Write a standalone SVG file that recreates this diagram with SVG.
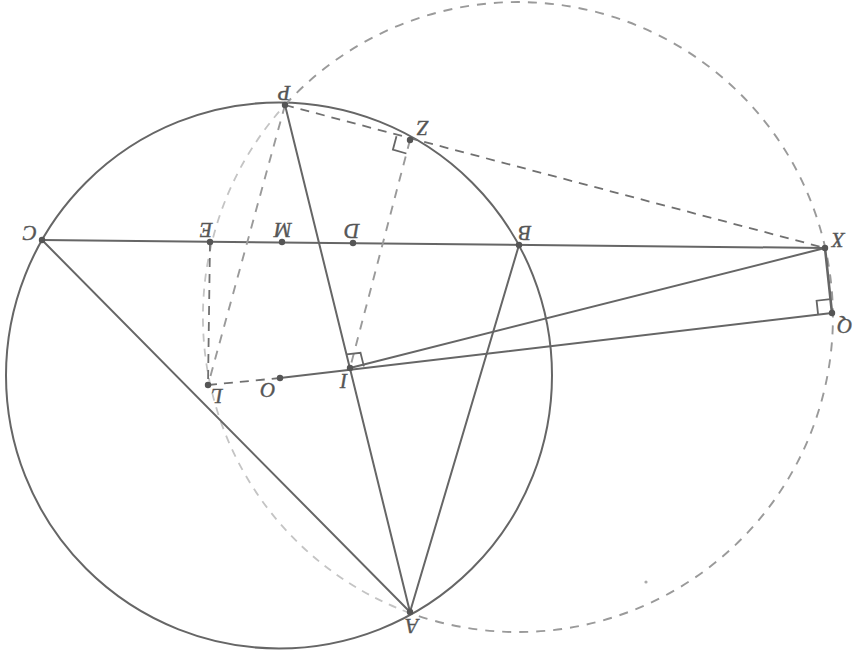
<svg xmlns="http://www.w3.org/2000/svg" width="855" height="652" viewBox="0 0 855 652">
<style>
.solid{fill:none;stroke:#666;stroke-width:2;stroke-linecap:round}
.dd{fill:none;stroke:#707070;stroke-width:1.8;stroke-dasharray:9 7}
.dm{fill:none;stroke:#9a9a9a;stroke-width:1.9;stroke-dasharray:9 8}
.dl{fill:none;stroke:#c4c4c4;stroke-width:1.8;stroke-dasharray:8 7}
.ra{fill:none;stroke:#666;stroke-width:1.8}
.pt{fill:#555}
.lb{font-family:"Liberation Serif","DejaVu Serif",serif;font-style:italic;font-size:21px;fill:#555;stroke:#555;stroke-width:0.4;text-anchor:middle;dominant-baseline:central}
</style>
<rect width="855" height="652" fill="#fff"/>
<g id="connectors">
<circle class="solid" cx="279" cy="375.5" r="273"/>
<path class="dm" d="M285 105 A315 315 0 1 1 410 613"/>
<path class="dl" d="M410 613 A315 315 0 0 1 285 105"/>
<line class="solid" x1="42" y1="240" x2="825" y2="248"/>
<line class="solid" x1="42" y1="240" x2="410" y2="612"/>
<line class="solid" x1="285" y1="105" x2="410" y2="612"/>
<line class="solid" x1="519" y1="245" x2="410" y2="612"/>
<line class="solid" x1="280" y1="378" x2="832" y2="313"/>
<line class="solid" x1="350" y1="368" x2="825" y2="248"/>
<line class="solid" x1="825" y1="248" x2="832" y2="313" style="stroke-width:2.6"/>
<line class="dd" x1="285" y1="105" x2="825" y2="248"/>
<line class="dm" x1="410" y1="140" x2="350" y2="368"/>
<line class="dm" x1="285" y1="105" x2="208" y2="385"/>
<line class="dd" x1="210" y1="242" x2="208" y2="385"/>
<line class="dd" x1="208" y1="385" x2="280" y2="378"/>
<path class="ra" d="M830.5 299.1 L816.6 300.7 L818.1 314.6"/>
<path class="ra" d="M346.6 354.4 L360.5 352.8 L363.9 366.4"/>
<path class="ra" d="M396.5 136.2 L392.9 149.7 L406.4 153.5"/>
</g>
<g id="node-P"><circle class="pt" cx="285" cy="105" r="3.2"/><text class="lb" x="284" y="93" transform="rotate(180 284 93)">P</text></g>
<g id="node-Z"><circle class="pt" cx="410" cy="140" r="3.2"/><text class="lb" x="423" y="128" transform="rotate(180 423 128)">Z</text></g>
<g id="node-C"><circle class="pt" cx="42" cy="240" r="3.2"/><text class="lb" x="30" y="233" transform="rotate(180 30 233)">C</text></g>
<g id="node-E"><circle class="pt" cx="210" cy="242" r="3.2"/><text class="lb" x="206" y="230" transform="rotate(180 206 230)">E</text></g>
<g id="node-M"><circle class="pt" cx="282" cy="242" r="3.2"/><text class="lb" x="283" y="230" transform="rotate(180 283 230)">M</text></g>
<g id="node-D"><circle class="pt" cx="353" cy="243" r="3.2"/><text class="lb" x="352" y="231" transform="rotate(180 352 231)">D</text></g>
<g id="node-B"><circle class="pt" cx="519" cy="245" r="3.2"/><text class="lb" x="525" y="233" transform="rotate(180 525 233)">B</text></g>
<g id="node-X"><circle class="pt" cx="825" cy="248" r="3.2"/><text class="lb" x="838" y="240" transform="rotate(180 838 240)">X</text></g>
<g id="node-Q"><circle class="pt" cx="832" cy="313" r="3.2"/><text class="lb" x="845" y="326" transform="rotate(180 845 326)">Q</text></g>
<g id="node-I"><circle class="pt" cx="350" cy="368" r="3.2"/><text class="lb" x="344" y="381" transform="rotate(180 344 381)">I</text></g>
<g id="node-O"><circle class="pt" cx="280" cy="378" r="3.2"/><text class="lb" x="268" y="390" transform="rotate(180 268 390)">O</text></g>
<g id="node-L"><circle class="pt" cx="208" cy="385" r="3.2"/><text class="lb" x="217" y="396" transform="rotate(180 217 396)">L</text></g>
<g id="node-A"><circle class="pt" cx="410" cy="612" r="3.2"/><text class="lb" x="412" y="626" transform="rotate(180 412 626)">A</text></g>
<circle cx="646" cy="582" r="1.6" fill="#aaa"/>
</svg>
